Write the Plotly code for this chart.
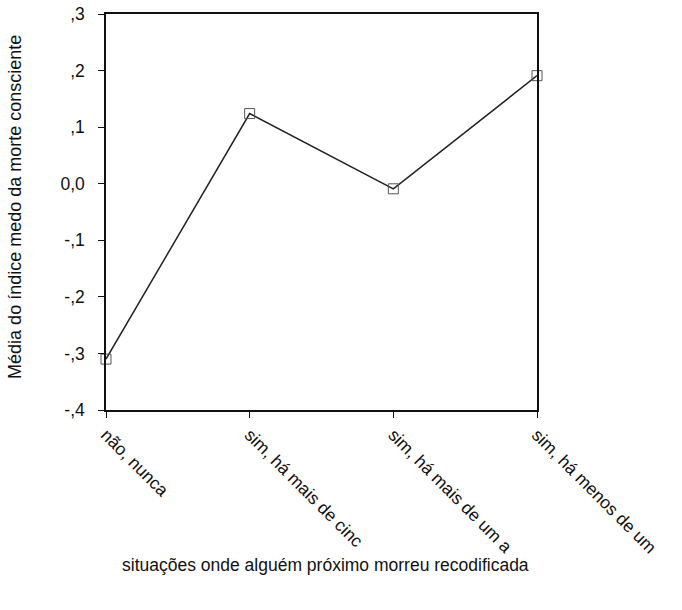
import plotly.graph_objects as go

categories = ["não, nunca", "sim, há mais de cinc", "sim, há mais de um a", "sim, há menos de um"]
means = [-0.31, 0.124, -0.009, 0.191]
y_ticks = [0.3, 0.2, 0.1, 0.0, -0.1, -0.2, -0.3, -0.4]
y_tick_labels = [",3", ",2", ",1", "0,0", "-,1", "-,2", "-,3", "-,4"]

x_pos = list(range(len(categories)))

fig = go.Figure()
fig.add_trace(go.Scatter(
    x=x_pos, y=means, mode="lines+markers",
    line=dict(color="#222222", width=1.5),
    marker=dict(symbol="square-open", size=10, color="#555555", line=dict(width=1)),
    cliponaxis=False, showlegend=False,
))

font = dict(family="Liberation Sans, Arial, sans-serif", size=17.5, color="#111111")
title_font = dict(family="Liberation Sans, Arial, sans-serif", size=18, color="#111111")

fig.update_layout(
    width=682, height=610,
    margin=dict(l=106, r=145, t=14, b=200),
    paper_bgcolor="white", plot_bgcolor="white",
    font=font,
    xaxis=dict(
        range=[0, 3], tickvals=x_pos, ticktext=categories, tickangle=45,
        showgrid=False, zeroline=False, showline=True, mirror=True,
        linecolor="#111111", linewidth=1.5, ticks="outside", ticklen=6,
        tickcolor="#111111", tickfont=font, automargin=False,
        ticklabeloverflow="allow",
    ),
    yaxis=dict(
        range=[-0.4, 0.3], tickvals=y_ticks, ticktext=y_tick_labels,
        showgrid=False, zeroline=False, showline=True, mirror=True,
        linecolor="#111111", linewidth=1.5, ticks="outside", ticklen=6,
        tickcolor="#111111", tickfont=font, automargin=False,
        ticklabelstandoff=10, ticklabeloverflow="allow",
    ),
)

fig.add_annotation(
    text="Média do índice medo da morte consciente",
    xref="paper", yref="paper", x=-0.211, y=0.513, textangle=-90,
    xanchor="center", yanchor="middle", showarrow=False, font=title_font,
)

fig.add_annotation(
    text="situações onde alguém próximo morreu recodificada",
    xref="paper", yref="paper", x=0.032, y=-0.391,
    xanchor="left", yanchor="middle", showarrow=False, font=font,
)

fig.write_html(
    "out.html",
    config={"displayModeBar": False},
    post_script="document.body.style.margin='0px';",
)
